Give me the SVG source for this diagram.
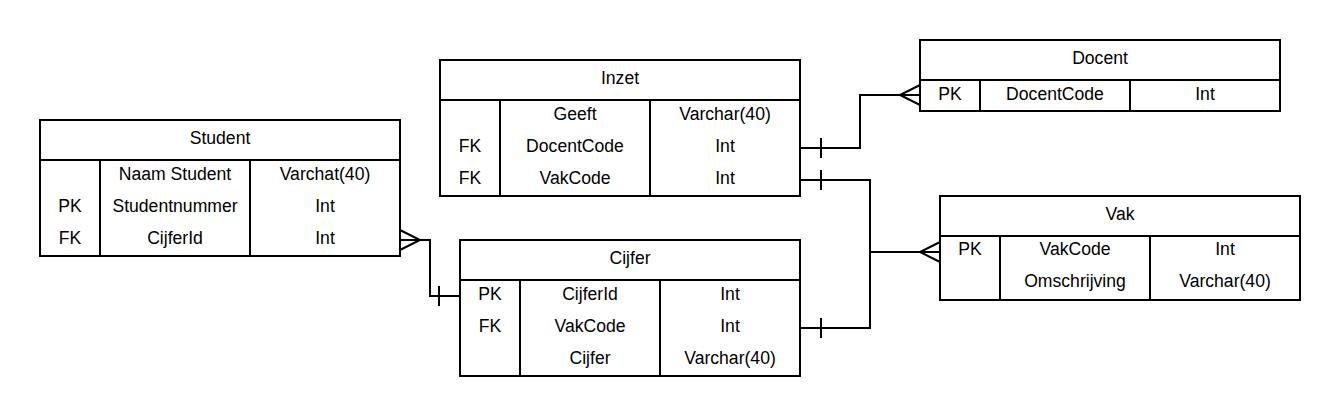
<svg xmlns="http://www.w3.org/2000/svg" width="1340" height="416" viewBox="0 0 1340 416">
<style>
.box{fill:#fff;stroke:#000;stroke-width:2}
.ln{fill:none;stroke:#000;stroke-width:2}
text{font-family:"Liberation Sans",Arial,sans-serif;font-size:17.6px;fill:#000;text-anchor:middle}
</style>
<rect width="1340" height="416" fill="#fff"/>
<g id="connectors">
  <path class="ln" d="M400,240 H430 V296 H460"/>
  <path class="ln" d="M400,230 L420,240 L400,250"/>
  <path class="ln" d="M439,286 V306"/>
  <path class="ln" d="M800,148 H860 V95 H920"/>
  <path class="ln" d="M920,85 L900,95 L920,105"/>
  <path class="ln" d="M821,138 V158"/>
  <path class="ln" d="M800,180 H870 V328 H800"/>
  <path class="ln" d="M870,252 H940"/>
  <path class="ln" d="M940,242 L920,252 L940,262"/>
  <path class="ln" d="M821,170 V190"/>
  <path class="ln" d="M821,318 V338"/>
</g>
<g id="student">
  <rect class="box" x="40" y="120" width="360" height="136"/>
  <path class="ln" d="M40,160 H400 M100,160 V256 M250,160 V256"/>
  <text x="220" y="144">Student</text>
  <text x="175" y="180">Naam Student</text>
  <text x="325" y="180">Varchat(40)</text>
  <text x="70" y="212">PK</text>
  <text x="175" y="212">Studentnummer</text>
  <text x="325" y="212">Int</text>
  <text x="70" y="244">FK</text>
  <text x="175" y="244">CijferId</text>
  <text x="325" y="244">Int</text>
</g>
<g id="inzet">
  <rect class="box" x="440" y="60" width="360" height="136"/>
  <path class="ln" d="M440,100 H800 M500,100 V196 M650,100 V196"/>
  <text x="620" y="84">Inzet</text>
  <text x="575" y="120">Geeft</text>
  <text x="725" y="120">Varchar(40)</text>
  <text x="470" y="152">FK</text>
  <text x="575" y="152">DocentCode</text>
  <text x="725" y="152">Int</text>
  <text x="470" y="184">FK</text>
  <text x="575" y="184">VakCode</text>
  <text x="725" y="184">Int</text>
</g>
<g id="docent">
  <rect class="box" x="920" y="40" width="360" height="71"/>
  <path class="ln" d="M920,80 H1280 M980,80 V111 M1130,80 V111"/>
  <text x="1100" y="64">Docent</text>
  <text x="950" y="100">PK</text>
  <text x="1055" y="100">DocentCode</text>
  <text x="1205" y="100">Int</text>
</g>
<g id="vak">
  <rect class="box" x="940" y="196" width="360" height="104"/>
  <path class="ln" d="M940,236 H1300 M1000,236 V300 M1150,236 V300"/>
  <text x="1120" y="220">Vak</text>
  <text x="970" y="255">PK</text>
  <text x="1075" y="255">VakCode</text>
  <text x="1225" y="255">Int</text>
  <text x="1075" y="287">Omschrijving</text>
  <text x="1225" y="287">Varchar(40)</text>
</g>
<g id="cijfer">
  <rect class="box" x="460" y="240" width="340" height="136"/>
  <path class="ln" d="M460,280 H800 M520,280 V376 M660,280 V376"/>
  <text x="630" y="264">Cijfer</text>
  <text x="490" y="300">PK</text>
  <text x="590" y="300">CijferId</text>
  <text x="730" y="300">Int</text>
  <text x="490" y="332">FK</text>
  <text x="590" y="332">VakCode</text>
  <text x="730" y="332">Int</text>
  <text x="590" y="364">Cijfer</text>
  <text x="730" y="364">Varchar(40)</text>
</g>
</svg>
